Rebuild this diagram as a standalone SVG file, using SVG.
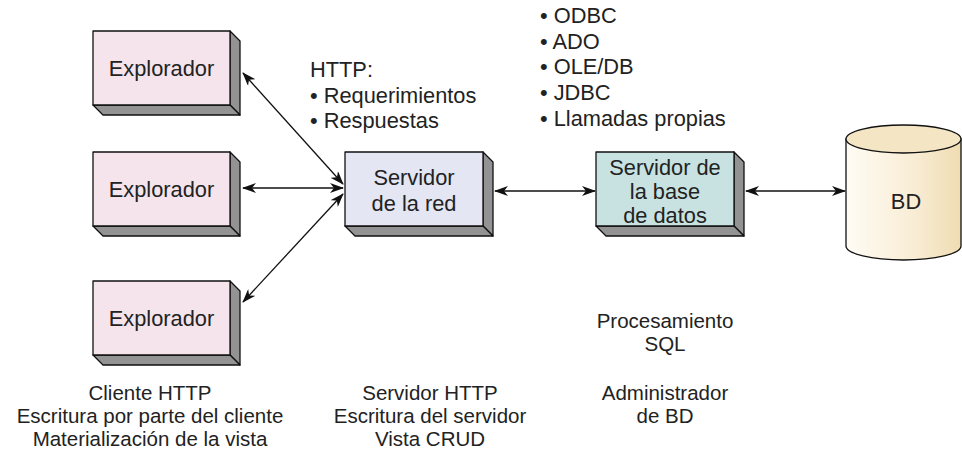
<svg xmlns="http://www.w3.org/2000/svg" width="962" height="458" viewBox="0 0 962 458">
<defs>
<marker id="ah" viewBox="0 0 14 10" refX="13" refY="5" markerWidth="14" markerHeight="10" markerUnits="userSpaceOnUse" orient="auto-start-reverse">
<path d="M0,0 L14,5 L0,10 L4,5 Z" fill="#111"/>
</marker>
<linearGradient id="cyl" x1="0" y1="0" x2="1" y2="0">
<stop offset="0" stop-color="#fffcf5"/>
<stop offset="0.6" stop-color="#f8ecd4"/>
<stop offset="1" stop-color="#efdcb2"/>
</linearGradient>
<style>
.t{font-family:"Liberation Sans",Arial,sans-serif;font-size:21.8px;fill:#222;}
.b{font-size:20.5px;}
.c{text-anchor:middle;}
.face{stroke:#111;stroke-width:1.3;stroke-linejoin:round;}
.side{fill:#939393;stroke:#111;stroke-width:1.3;stroke-linejoin:round;}
.con{stroke:#111;stroke-width:1.3;fill:none;marker-start:url(#ah);marker-end:url(#ah);}
</style>
</defs>
<rect width="962" height="458" fill="#fff"/>

<g id="explorador1">
<path class="side" d="M230,31 L240,41 L240,115 L230,105 Z"/>
<path class="side" d="M93,105 L103,115 L240,115 L230,105 Z"/>
<rect class="face" x="93" y="31" width="137" height="74" fill="#f5e4ec"/>
<text class="t c" x="161.5" y="75.5">Explorador</text>
</g>

<g id="explorador2">
<path class="side" d="M230,152 L240,162 L240,236 L230,226 Z"/>
<path class="side" d="M93,226 L103,236 L240,236 L230,226 Z"/>
<rect class="face" x="93" y="152" width="137" height="74" fill="#f5e4ec"/>
<text class="t c" x="161.5" y="196.5">Explorador</text>
</g>

<g id="explorador3">
<path class="side" d="M230,281 L240,291 L240,365 L230,355 Z"/>
<path class="side" d="M93,355 L103,365 L240,365 L230,355 Z"/>
<rect class="face" x="93" y="281" width="137" height="74" fill="#f5e4ec"/>
<text class="t c" x="161.5" y="325.5">Explorador</text>
</g>

<g id="servidor_red">
<path class="side" d="M483,152 L493,162 L493,236 L483,226 Z"/>
<path class="side" d="M345,226 L355,236 L493,236 L483,226 Z"/>
<rect class="face" x="345" y="152" width="138" height="74" fill="#e4e6f4"/>
<text class="t c" x="414" y="185">Servidor</text>
<text class="t c" x="414" y="211">de la red</text>
</g>

<g id="servidor_bd">
<path class="side" d="M734,152 L744,162 L744,236 L734,226 Z"/>
<path class="side" d="M596,226 L606,236 L744,236 L734,226 Z"/>
<rect class="face" x="596" y="152" width="138" height="74" fill="#c8e2e2"/>
<text class="t c" x="665" y="175">Servidor de</text>
<text class="t c" x="665" y="199">la base</text>
<text class="t c" x="665" y="223">de datos</text>
</g>

<g id="bd">
<path d="M846,139 L846,246 A57.5,14 0 0 0 961,246 L961,139 Z" fill="url(#cyl)" stroke="#111" stroke-width="1.3"/>
<ellipse cx="903.5" cy="139" rx="57.5" ry="14" fill="#f4e5c4" stroke="#111" stroke-width="1.3"/>
<text class="t c" x="906" y="209">BD</text>
</g>

<g id="conectores">
<line class="con" x1="243" y1="73" x2="343" y2="184"/>
<line class="con" x1="243" y1="188" x2="343" y2="188"/>
<line class="con" x1="243" y1="302" x2="343" y2="194"/>
<line class="con" x1="495" y1="191" x2="595" y2="191"/>
<line class="con" x1="746" y1="191" x2="845" y2="191"/>
</g>

<g id="etiqueta_http">
<text class="t" x="310" y="77">HTTP:</text>
<text class="t" x="310" y="103">• Requerimientos</text>
<text class="t" x="310" y="128">• Respuestas</text>
</g>

<g id="etiqueta_apis">
<text class="t" x="540" y="23">• ODBC</text>
<text class="t" x="540" y="49">• ADO</text>
<text class="t" x="540" y="74">• OLE/DB</text>
<text class="t" x="540" y="100">• JDBC</text>
<text class="t" x="540" y="126">• Llamadas propias</text>
</g>

<g id="texto_cliente">
<text class="t b c" x="150" y="400">Cliente HTTP</text>
<text class="t b c" x="150" y="423">Escritura por parte del cliente</text>
<text class="t b c" x="150" y="446">Materialización de la vista</text>
</g>

<g id="texto_servidor">
<text class="t b c" x="430" y="400">Servidor HTTP</text>
<text class="t b c" x="430" y="423">Escritura del servidor</text>
<text class="t b c" x="430" y="446">Vista CRUD</text>
</g>

<g id="texto_bd">
<text class="t b c" x="665" y="328">Procesamiento</text>
<text class="t b c" x="665" y="351">SQL</text>
<text class="t b c" x="665" y="400">Administrador</text>
<text class="t b c" x="665" y="423">de BD</text>
</g>
</svg>
